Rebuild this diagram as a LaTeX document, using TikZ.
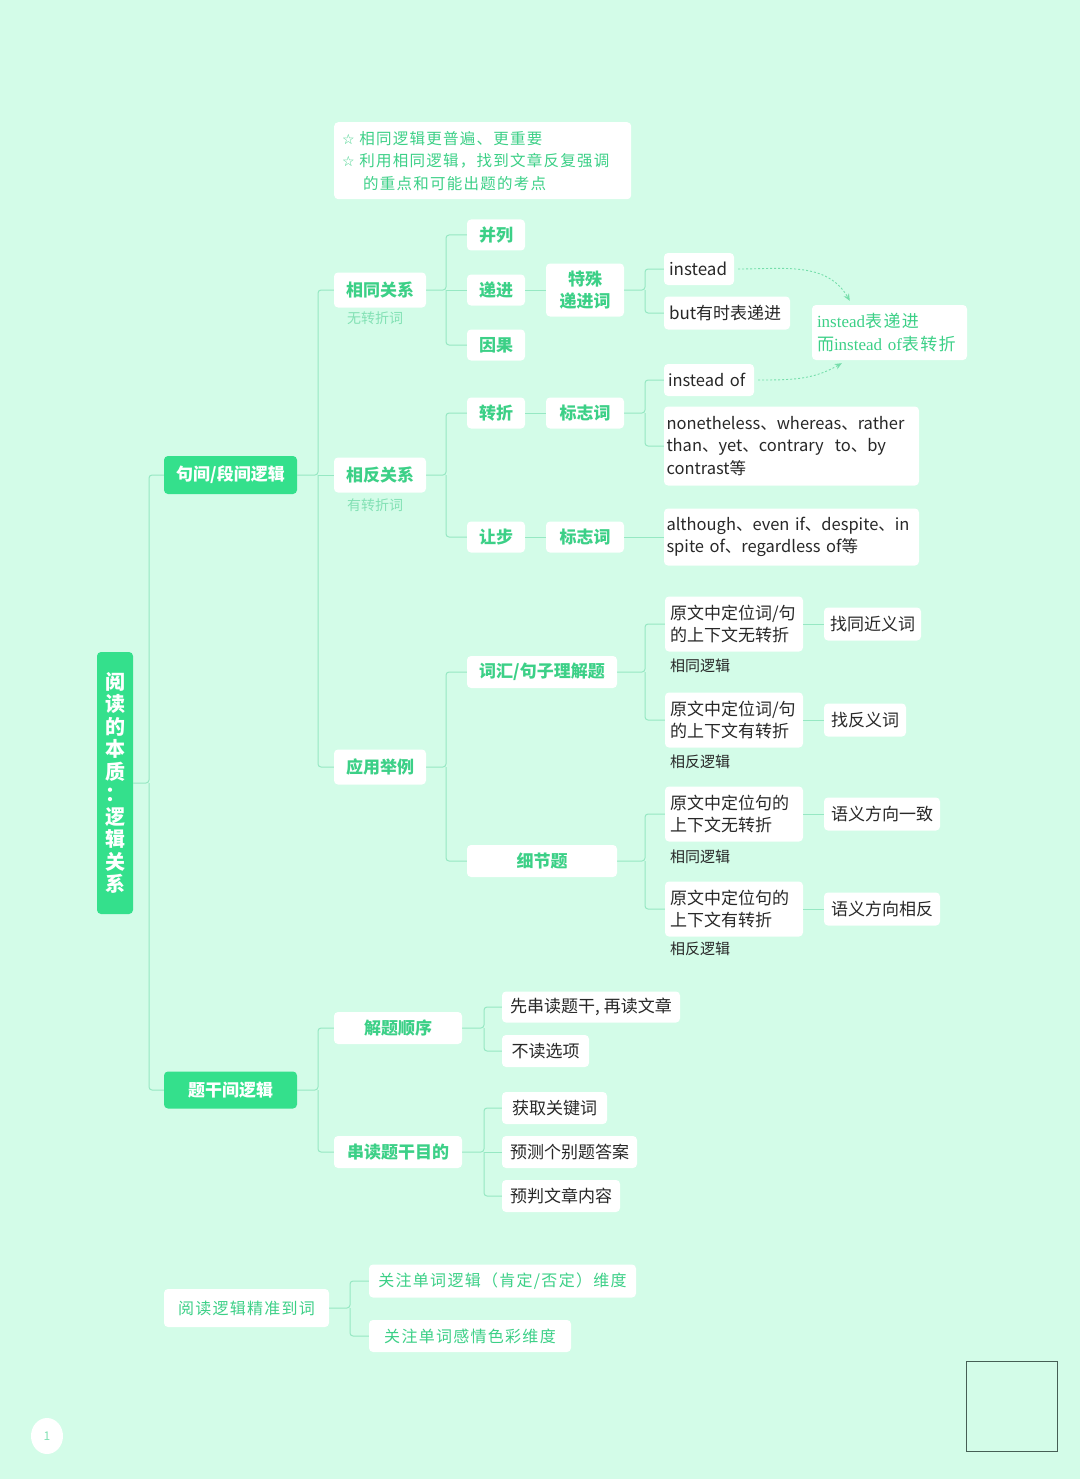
\documentclass[tikz,border=0pt]{standalone}
\usepackage{fontspec}
\setmainfont{Noto Sans CJK SC}
\newfontfamily\sym{DejaVu Sans}
\newfontfamily\lserif{Liberation Serif}
\newfontfamily\hand[LetterSpace=8]{Noto Sans CJK SC}
\usetikzlibrary{arrows.meta,shapes.geometric}
\definecolor{bgc}{RGB}{211,252,232}
\definecolor{gfill}{RGB}{52,224,140}
\definecolor{gtext}{RGB}{60,208,135}
\definecolor{lgtext}{RGB}{130,225,180}
\definecolor{lgreen}{RGB}{150,232,195}
\definecolor{dark}{RGB}{40,40,40}
\definecolor{boxline}{RGB}{70,95,85}
\tikzset{
  gbox/.style={fill=gfill, text=white, rounded corners=4pt, inner sep=0pt, align=center,
    font=\bfseries\fontsize{17}{20}\selectfont},
  wbox/.style={fill=white, text=gtext, rounded corners=4pt, inner sep=0pt, align=center,
    font=\bfseries\fontsize{17}{21}\selectfont},
  tbox/.style={fill=white, text=dark, rounded corners=4pt, inner sep=0pt, align=left,
    font=\fontsize{17}{22.5}\selectfont},
  hbox/.style={fill=white, text=gtext, rounded corners=4pt, inner sep=0pt, align=left,
    font=\hand\fontsize{16}{22.5}\selectfont},
  sublab/.style={text=lgtext, inner sep=0pt, font=\fontsize{14}{15}\selectfont},
  logic/.style={text=dark, inner sep=0pt, font=\fontsize{15}{16}\selectfont},
  conn/.style={draw=lgreen, line width=1pt, rounded corners=3pt},
  darr/.style={draw=gtext!70, line width=0.9pt, dashed, dash pattern=on 2pt off 2pt,
    -{Stealth[length=7pt,width=6pt]}},
}
\begin{document}
\begin{tikzpicture}[x=1pt,y=-1pt]
\fill[bgc] (0,0) rectangle (1080,1479);
\useasboundingbox (0,0) rectangle (1080,1479);

% top note
\node[hbox, minimum width=297pt, minimum height=77pt, anchor=north west] (note) at (334,122) {};
\node[text=gtext, anchor=west, inner sep=0pt, font=\hand\fontsize{15.5}{22.5}\selectfont, align=left] (notetxt) at (342,161)
  {{\sym\fontsize{14}{15}\selectfont☆}\ 相同逻辑更普遍、更重要\\
   {\sym\fontsize{14}{15}\selectfont☆}\ 利用相同逻辑，找到文章反复强调\\
   \hspace*{21pt}的重点和可能出题的考点};

% root
\node[gbox, minimum width=36pt, minimum height=262pt, font=\bfseries\fontsize{20}{22.5}\selectfont] (root) at (115,783)
  {阅\\读\\的\\本\\质\\：\\逻\\辑\\关\\系};

% level 1
\node[gbox, minimum width=133pt, minimum height=38pt] (juj) at (230.5,475) {句间/段间逻辑};
\node[gbox, minimum width=133pt, minimum height=37pt] (tig) at (230.5,1090) {题干间逻辑};

% level 2 (sentence logic)
\node[wbox, minimum width=92pt, minimum height=35pt] (same) at (380,290) {相同关系};
\node[sublab] (samesub) at (375,318) {无转折词};
\node[wbox, minimum width=92pt, minimum height=35pt] (oppo) at (380,475) {相反关系};
\node[sublab] (opposub) at (375,505) {有转折词};
\node[wbox, minimum width=92pt, minimum height=35pt] (appl) at (380,767) {应用举例};

% same relation children
\node[wbox, minimum width=58pt, minimum height=31pt] (bing) at (496,235) {并列};
\node[wbox, minimum width=58pt, minimum height=31pt] (dij) at (496,290) {递进};
\node[wbox, minimum width=58pt, minimum height=31pt] (yin) at (496,345) {因果};
\node[wbox, minimum width=78pt, minimum height=53pt, font=\bfseries\fontsize{17}{22}\selectfont] (tesh) at (585,290) {特殊\\递进词};
\node[tbox, minimum width=70pt, minimum height=32pt, text width=60pt] (inst) at (699,269) {instead};
\node[tbox, minimum width=126pt, minimum height=33pt, text width=116pt] (butd) at (727,313) {but有时表递进};
\node[hbox, minimum width=155pt, minimum height=55pt, text width=145pt, font=\lserif\fontsize{17}{22.5}\selectfont] (instn) at (889.5,332.5)
  {instead{\hand 表递进}\\{\hand 而}instead of{\hand 表转折}};

% opposite relation children
\node[wbox, minimum width=58pt, minimum height=31pt] (zhe) at (496,413) {转折};
\node[wbox, minimum width=58pt, minimum height=31pt] (rang) at (496,537) {让步};
\node[wbox, minimum width=78pt, minimum height=31pt] (bz1) at (585,413) {标志词};
\node[wbox, minimum width=78pt, minimum height=31pt] (bz2) at (585,537) {标志词};
\node[tbox, minimum width=90pt, minimum height=32pt, text width=82pt, font=\fontsize{16.5}{22.5}\selectfont] (instof) at (709,380) {instead of};
\node[tbox, minimum width=255pt, minimum height=79pt, text width=250pt, font=\fontsize{16.5}{22.5}\selectfont] (none) at (791.5,446)
  {nonetheless、whereas、rather\\than、yet、contrary\ \ to、by\\contrast等};
\node[tbox, minimum width=255pt, minimum height=57pt, text width=250pt, font=\fontsize{16.5}{22.5}\selectfont] (alth) at (791.5,537)
  {although、even\ if、despite、in\\spite of、regardless of等};

% application children
\node[wbox, minimum width=150pt, minimum height=32pt] (cih) at (542,672) {词汇/句子理解题};
\node[wbox, minimum width=150pt, minimum height=32pt] (xij) at (542,861) {细节题};

\node[tbox, minimum width=138pt, minimum height=55pt, text width=128pt] (v1) at (734,624) {原文中定位词/句\\的上下文无转折};
\node[logic, anchor=west] (v1l) at (670,666) {相同逻辑};
\node[tbox, minimum width=97pt, minimum height=33pt, align=center] (v1r) at (872.5,624) {找同近义词};
\node[tbox, minimum width=138pt, minimum height=55pt, text width=128pt] (v2) at (734,720) {原文中定位词/句\\的上下文有转折};
\node[logic, anchor=west] (v2l) at (670,762) {相反逻辑};
\node[tbox, minimum width=82pt, minimum height=33pt, align=center] (v2r) at (865,720) {找反义词};

\node[tbox, minimum width=138pt, minimum height=55pt, text width=128pt] (d1) at (734,814) {原文中定位句的\\上下文无转折};
\node[logic, anchor=west] (d1l) at (670,857) {相同逻辑};
\node[tbox, minimum width=116pt, minimum height=33pt, align=center] (d1r) at (882,814) {语义方向一致};
\node[tbox, minimum width=138pt, minimum height=55pt, text width=128pt] (d2) at (734,909) {原文中定位句的\\上下文有转折};
\node[logic, anchor=west] (d2l) at (670,949) {相反逻辑};
\node[tbox, minimum width=116pt, minimum height=33pt, align=center] (d2r) at (882,909) {语义方向相反};

% question stem logic
\node[wbox, minimum width=128pt, minimum height=32pt] (jie) at (398,1028) {解题顺序};
\node[wbox, minimum width=128pt, minimum height=32pt] (chuan) at (398,1152) {串读题干目的};
\node[tbox, minimum width=178pt, minimum height=31pt, align=center] (q1) at (591,1007) {先串读题干, 再读文章};
\node[tbox, minimum width=87pt, minimum height=32pt, align=center] (q2) at (545.5,1051) {不读选项};
\node[tbox, minimum width=105pt, minimum height=32pt, align=center] (q3) at (554.5,1108) {获取关键词};
\node[tbox, minimum width=135pt, minimum height=32pt, align=center] (q4) at (569.5,1152) {预测个别题答案};
\node[tbox, minimum width=118pt, minimum height=32pt, align=center] (q5) at (561,1196) {预判文章内容};

% bottom group
\node[hbox, minimum width=165pt, minimum height=38pt, align=center] (yue) at (246.5,1308) {阅读逻辑精准到词};
\node[hbox, minimum width=267pt, minimum height=33pt, align=center] (yue1) at (502.5,1281) {关注单词逻辑（肯定/否定）维度};
\node[hbox, minimum width=202pt, minimum height=32pt, align=center] (yue2) at (470,1336) {关注单词感情色彩维度};

% page number and frame
\node[fill=white, ellipse, minimum width=32pt, minimum height=36pt, inner sep=0pt, text=lgtext,
  font=\fontsize{12}{14}\selectfont] (pg) at (47,1436) {1};
\draw[boxline, line width=1pt] (966,1361) rectangle (1057,1451);

% bracket points
\coordinate (b0) at (149,783);
\coordinate (b1) at (318,475);
\coordinate (b2) at (446,290);
\coordinate (b3) at (645,290);
\coordinate (b4) at (446,475);
\coordinate (b5) at (645,413);
\coordinate (b6) at (446,767);
\coordinate (b7) at (645,672);
\coordinate (b8) at (645,861);
\coordinate (b9) at (318,1090);
\coordinate (b10) at (484,1028);
\coordinate (b11) at (484,1152);
\coordinate (b12) at (350,1308);

% connectors
\draw[conn] (root.east) -- (b0) |- (juj.west);
\draw[conn] (b0) |- (tig.west);
\draw[conn] (juj.east) -- (b1) |- (same.west);
\draw[conn] (b1) -- (oppo.west);
\draw[conn] (b1) |- (appl.west);
\draw[conn] (same.east) -- (b2) |- (bing.west);
\draw[conn] (b2) -- (dij.west);
\draw[conn] (b2) |- (yin.west);
\draw[conn] (dij.east) -- (tesh.west);
\draw[conn] (tesh.east) -- (b3) |- (inst.west);
\draw[conn] (b3) |- (butd.west);
\draw[conn] (oppo.east) -- (b4) |- (zhe.west);
\draw[conn] (b4) |- (rang.west);
\draw[conn] (zhe.east) -- (bz1.west);
\draw[conn] (rang.east) -- (bz2.west);
\draw[conn] (bz1.east) -- (b5) |- (instof.west);
\draw[conn] (b5) |- (none.west);
\draw[conn] (bz2.east) -- (alth.west);
\draw[conn] (appl.east) -- (b6) |- (cih.west);
\draw[conn] (b6) |- (xij.west);
\draw[conn] (cih.east) -- (b7) |- (v1.west);
\draw[conn] (b7) |- (v2.west);
\draw[conn] (v1.east) -- (v1r.west);
\draw[conn] (v2.east) -- (v2r.west);
\draw[conn] (xij.east) -- (b8) |- (d1.west);
\draw[conn] (b8) |- (d2.west);
\draw[conn] (d1.east) -- (d1r.west);
\draw[conn] (d2.east) -- (d2r.west);
\draw[conn] (tig.east) -- (b9) |- (jie.west);
\draw[conn] (b9) |- (chuan.west);
\draw[conn] (jie.east) -- (b10) |- (q1.west);
\draw[conn] (b10) |- (q2.west);
\draw[conn] (chuan.east) -- (b11) |- (q3.west);
\draw[conn] (b11) -- (q4.west);
\draw[conn] (b11) |- (q5.west);
\draw[conn] (yue.east) -- (b12) |- (yue1.west);
\draw[conn] (b12) |- (yue2.west);

% dashed arrows
\draw[darr] ([xshift=4pt]inst.east) to[out=0, in=120] ([xshift=38pt,yshift=4pt]instn.north west);
\draw[darr] ([xshift=4pt]instof.east) to[out=0, in=-150] ([xshift=30pt,yshift=-3pt]instn.south west);
\end{tikzpicture}
\end{document}
